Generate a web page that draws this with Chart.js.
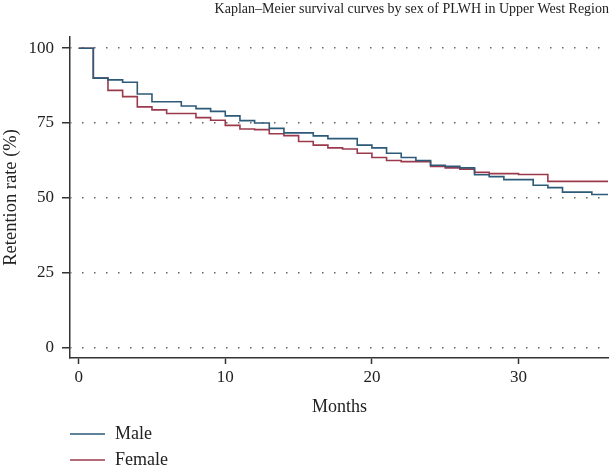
<!DOCTYPE html>
<html>
<head>
<meta charset="utf-8">
<script src="https://cdn.jsdelivr.net/npm/chart.js@4/dist/chart.umd.min.js"></script>
<style>
html,body{margin:0;padding:0;background:#fff;}
#wrap{width:609px;height:469px;}
</style>
</head>
<body>
<div id="wrap"><canvas id="c" width="609" height="469"></canvas></div>
<script>
// ---- data ----
const chartTitle = "Kaplan\u2013Meier survival curves by sex of PLWH in Upper West Region";
const xAxisTitle = "Months";
const yAxisTitle = "Retention rate (%)";
const seriesNames = ["Male", "Female"];
const xTicks = [0, 10, 20, 30];
const yTicks = [0, 25, 50, 75, 100];

const maleMonths = [0, 1, 2, 3, 4, 5, 7, 8, 9, 10, 11, 12, 13, 14, 16, 17, 19, 20, 21, 22, 23, 24, 25, 26, 27, 28, 29, 31, 32, 33, 35, 36.1];
const maleRetention = [100, 90, 89.4, 88.6, 84.7, 82.1, 80.7, 79.8, 78.9, 77.4, 75.8, 75.0, 73.2, 71.7, 70.7, 69.8, 67.6, 66.7, 64.9, 63.5, 62.5, 60.9, 60.5, 60.0, 57.7, 57.1, 56.1, 54.2, 53.4, 51.9, 51.1, 51.1];

const femaleMonths = [0, 1, 2, 3, 4, 5, 6, 8, 9, 10, 11, 12, 13, 14, 15, 16, 17, 18, 19, 20, 21, 22, 24, 25, 26, 27, 28, 30, 32, 36.1];
const femaleRetention = [100, 90, 85.9, 83.8, 80.4, 79.4, 78.2, 76.8, 75.9, 74.2, 73.0, 72.8, 71.4, 70.8, 68.8, 67.6, 66.7, 66.3, 64.9, 63.5, 62.5, 62.1, 60.5, 60.0, 59.6, 58.5, 58.1, 57.8, 55.5, 55.5];

// ---- styles ----
const FONT = "'Liberation Serif', 'DejaVu Serif', serif";
const maleColor = "#2c5a78";
const femaleColor = "#9b3a4d";
const textColor = "#222222";
const axisColor = "#333333";

const toPts = (xs, ys) => xs.map((x, i) => ({x: x, y: ys[i]}));

const legendPlugin = {
  id: 'stackLegend',
  afterDraw(chart) {
    const ctx = chart.ctx;
    ctx.save();
    chart.data.datasets.forEach((ds, i) => {
      const y = 434 + i * 26;
      ctx.strokeStyle = ds.borderColor;
      ctx.lineWidth = 1.5;
      ctx.beginPath();
      ctx.moveTo(70, y);
      ctx.lineTo(105, y);
      ctx.stroke();
      ctx.fillStyle = textColor;
      ctx.font = "18px " + FONT;
      ctx.textBaseline = 'middle';
      ctx.textAlign = 'left';
      ctx.fillText(ds.label, 115, y);
    });
    ctx.restore();
  }
};

new Chart(document.getElementById('c'), {
  type: 'line',
  data: {
    datasets: [
      {label: seriesNames[0], data: toPts(maleMonths, maleRetention), borderColor: maleColor, borderWidth: 1.6, stepped: 'before', pointRadius: 0, fill: false},
      {label: seriesNames[1], data: toPts(femaleMonths, femaleRetention), borderColor: femaleColor, borderWidth: 1.6, stepped: 'before', pointRadius: 0, fill: false}
    ]
  },
  options: {
    responsive: false,
    animation: false,
    devicePixelRatio: 1,
    layout: {padding: {left: 0, right: 0, top: 0, bottom: 51}},
    plugins: {
      legend: {display: false},
      tooltip: {enabled: false},
      title: {
        display: true,
        text: chartTitle,
        align: 'end',
        color: textColor,
        font: {family: FONT, size: 14, weight: 'normal'},
        padding: {top: 1, bottom: 19}
      }
    },
    scales: {
      x: {
        type: 'linear',
        min: -0.59,
        max: 36.17,
        afterBuildTicks(s) { s.ticks = xTicks.map(v => ({value: v})); },
        afterFit(s) { s.height = 60; },
        ticks: {color: textColor, font: {family: FONT, size: 17}, padding: 3, maxRotation: 0},
        grid: {drawOnChartArea: false, drawTicks: true, tickLength: 6, tickColor: axisColor, tickWidth: 1.5},
        border: {display: true, color: axisColor, width: 1.5},
        title: {display: true, text: xAxisTitle, color: textColor, font: {family: FONT, size: 18}, padding: {top: 0, bottom: 0}}
      },
      y: {
        type: 'linear',
        min: -3.5,
        max: 103.8,
        afterBuildTicks(s) { s.ticks = yTicks.map(v => ({value: v})); },
        afterFit(s) { s.width = 70; },
        ticks: {color: textColor, font: {family: FONT, size: 17}, padding: 8},
        grid: {drawOnChartArea: true, drawTicks: true, tickLength: 8, color: '#666666', lineWidth: 1.5, tickColor: axisColor, tickWidth: 1.5, tickBorderDash: []},
        border: {display: true, color: axisColor, width: 1.5, dash: [1.5, 10.5], dashOffset: 0.5},
        title: {display: true, text: yAxisTitle, color: textColor, font: {family: FONT, size: 18.5}, padding: {top: 0, bottom: 0}}
      }
    }
  },
  plugins: [legendPlugin]
});
</script>
</body>
</html>
